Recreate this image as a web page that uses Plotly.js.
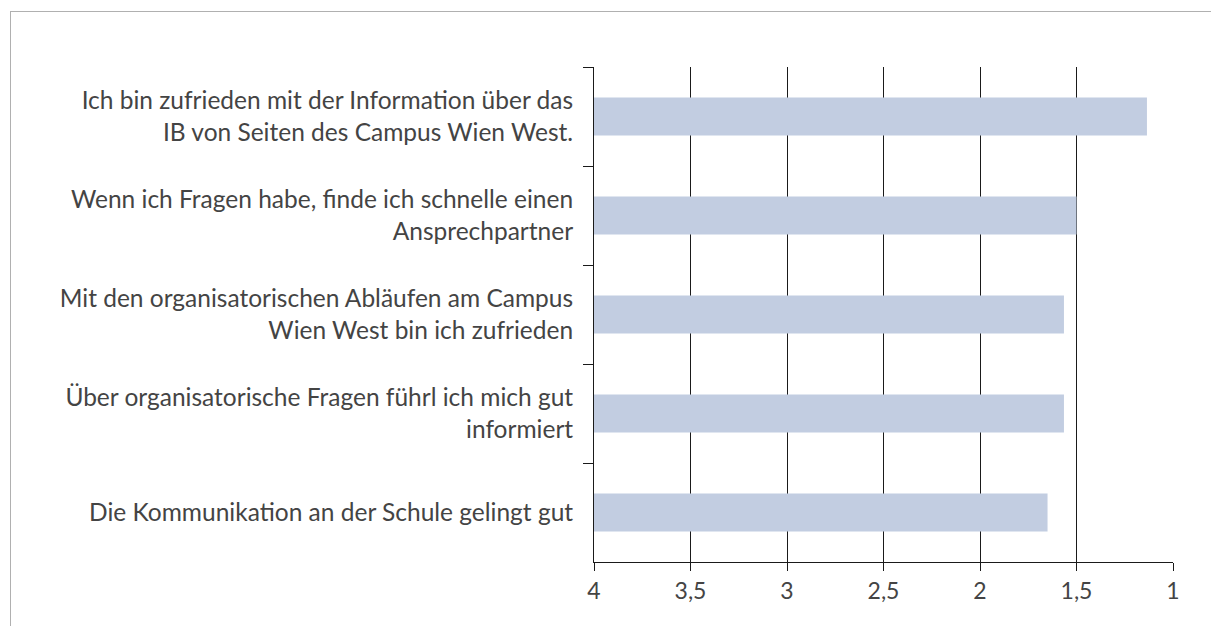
<!DOCTYPE html>
<html>
<head>
<meta charset="utf-8">
<script src="https://cdn.plot.ly/plotly-3.0.1.min.js"></script>
<style>
  body { margin: 0; background: #fff; }
  #plot { width: 1211px; height: 626px; }
  #frame {
    position: absolute; left: 10px; top: 11px; right: 0; bottom: 0;
    border-top: 1px solid #b0b0b0; border-left: 1px solid #b0b0b0;
    pointer-events: none;
  }
</style>
</head>
<body>
<div id="plot"></div>
<div id="frame"></div>
<script>
// statements, top to bottom
var labels = [
    'Ich bin zufrieden mit der Information über das<br>IB von Seiten des Campus Wien West.',
    'Wenn ich Fragen habe, finde ich schnelle einen<br>Ansprechpartner',
    'Mit den organisatorischen Abläufen am Campus<br>Wien West bin ich zufrieden',
    'Über organisatorische Fragen führl ich mich gut<br>informiert',
    'Die Kommunikation an der Schule gelingt gut'
];
// mean ratings (1 = best, 4 = worst)
var means = [1.135, 1.50, 1.565, 1.565, 1.65];
var scaleStart = 4; // bars grow from 4 towards 1

var tickVals = [4, 3.5, 3, 2.5, 2, 1.5, 1];
var tickText = ['4', '3,5', '3', '2,5', '2', '1,5', '1'];

var trace = {
    type: 'bar',
    orientation: 'h',
    y: labels,
    base: scaleStart,
    x: means.map(function(m) { return m - scaleStart; }),
    width: 0.385,
    marker: { color: '#c2cde1' },
    hoverinfo: 'none'
};

var layout = {
    width: 1211,
    height: 626,
    margin: { l: 594, r: 38, t: 67, b: 64 },
    paper_bgcolor: '#fff',
    plot_bgcolor: '#fff',
    showlegend: false,
    font: { family: 'Lato, "Open Sans", sans-serif', size: 24, color: '#444' },
    xaxis: {
        range: [4, 1],
        tickvals: tickVals,
        ticktext: tickText,
        showgrid: true,
        gridcolor: '#1a1a1a',
        gridwidth: 1,
        zeroline: false,
        showline: true,
        linecolor: '#1a1a1a',
        ticks: 'outside',
        ticklen: 8,
        tickcolor: '#1a1a1a',
        ticklabelstandoff: 0,
        tickfont: { size: 23, color: '#444' }
    },
    yaxis: {
        type: 'category',
        autorange: 'reversed',
        showgrid: false,
        zeroline: false,
        showline: true,
        linecolor: '#1a1a1a',
        ticks: 'outside',
        tickson: 'boundaries',
        ticklen: 10,
        tickcolor: '#1a1a1a',
        ticklabelstandoff: 15,
        tickfont: { size: 24.5, color: '#444' }
    }
};

Plotly.newPlot('plot', [trace], layout, { displayModeBar: false, staticPlot: true });
</script>
</body>
</html>
